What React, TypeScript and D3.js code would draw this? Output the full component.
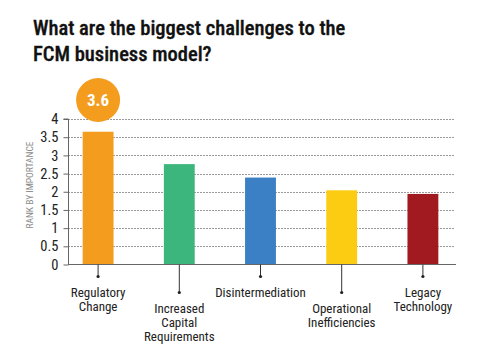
import React, { useRef, useEffect } from "react";
import { select, scaleBand, scaleLinear, axisLeft, range } from "d3";

const categories = [
  ["Regulatory", "Change"],
  ["Increased", "Capital", "Requirements"],
  ["Disintermediation"],
  ["Operational", "Inefficiencies"],
  ["Legacy", "Technology"],
];
const values = [3.65, 2.76, 2.39, 2.04, 1.94];
const colors = ["#F49C1E", "#3DB67E", "#3B7FC4", "#FCCC12", "#A01A20"];
const yTicks = [0, 0.5, 1, 1.5, 2, 2.5, 3, 3.5, 4];
const highlight = "3.6";

const FONT = "'Liberation Sans Narrow', 'Roboto Condensed', 'DejaVu Sans Condensed', sans-serif";

function App() {
  const svgRef = useRef<SVGSVGElement>(null);

  useEffect(() => {
    const svg = select(svgRef.current);
    svg.selectAll("*").remove();

    const x = scaleBand<number>()
      .domain(range(values.length))
      .range([57.5, 463.5])
      .paddingInner(0.62)
      .paddingOuter(0.31);
    const y = scaleLinear().domain([0, 4]).range([264.5, 119]);

    // title
    const title = svg
      .append("text")
      .attr("font-family", FONT)
      .attr("font-size", 20.5)
      .attr("font-weight", 500)
      .attr("fill", "#111")
      .attr("stroke", "#111")
      .attr("stroke-width", 0.35);
    ["What are the biggest challenges to the", "FCM business model?"].forEach((t, i) =>
      title.append("tspan").attr("x", 33).attr("y", 35 + i * 25.5).text(t)
    );

    // grid
    svg
      .append("g")
      .selectAll("line")
      .data(yTicks.filter((d) => d > 0))
      .join("line")
      .attr("x1", 68)
      .attr("x2", 455)
      .attr("y1", (d) => Math.round(y(d)) + 0.5)
      .attr("y2", (d) => Math.round(y(d)) + 0.5)
      .attr("stroke", "#9a9a9a")
      .attr("stroke-width", 1)
      .attr("stroke-dasharray", "2,1");

    // y axis
    const yAxis = axisLeft(y)
      .tickValues(yTicks)
      .tickSize(5)
      .tickPadding(5)
      .tickFormat((d) => String(d));
    const ga = svg.append("g").attr("transform", "translate(68.5,0)").call(yAxis);
    ga.select(".domain").attr("stroke", "#666").attr("d", `M-5,${y(4)}H0V${y(0)}`);
    ga.selectAll(".tick line").attr("stroke", "#666");
    ga.selectAll(".tick text")
      .attr("font-family", FONT)
      .attr("font-size", 14.5)
      .attr("fill", "#222");

    // axis title
    svg
      .append("text")
      .attr("transform", `translate(33,185) rotate(-90)`)
      .attr("text-anchor", "middle")
      .attr("font-family", FONT)
      .attr("font-size", 9.5)
      .attr("fill", "#8a8a8a")
      .text("RANK BY IMPORTANCE");

    // bars
    svg
      .append("g")
      .selectAll("rect")
      .data(values)
      .join("rect")
      .attr("x", (d, i) => x(i)!)
      .attr("y", (d) => y(d))
      .attr("width", x.bandwidth())
      .attr("height", (d) => y(0) - y(d))
      .attr("fill", (d, i) => colors[i]);

    // baseline
    svg
      .append("line")
      .attr("x1", 68)
      .attr("x2", 456)
      .attr("y1", y(0))
      .attr("y2", y(0))
      .attr("stroke", "#666")
      .attr("stroke-width", 1.2);

    // category connectors and labels
    const cat = svg
      .append("g")
      .selectAll("g")
      .data(categories)
      .join("g")
      .attr("transform", (d, i) => `translate(${x(i)! + x.bandwidth() / 2},0)`);
    const drop = (i: number) => (i % 2 === 0 ? 12 : 28);
    cat
      .append("line")
      .attr("y1", y(0))
      .attr("y2", (d, i) => y(0) + drop(i))
      .attr("stroke", "#333")
      .attr("stroke-width", 1);
    cat
      .append("circle")
      .attr("cy", (d, i) => y(0) + drop(i))
      .attr("r", 1.6)
      .attr("fill", "#222");
    cat
      .append("text")
      .attr("text-anchor", "middle")
      .attr("font-family", FONT)
      .attr("font-size", 13)
      .attr("fill", "#222")
      .each(function (d, i) {
        const t = select(this);
        d.forEach((line, j) =>
          t
            .append("tspan")
            .attr("x", 0)
            .attr("y", y(0) + drop(i) + 20 + j * 14.3)
            .text(line)
        );
      });

    // highlight bubble
    const cx = x(0)! + x.bandwidth() / 2;
    svg
      .append("circle")
      .attr("cx", cx)
      .attr("cy", 100)
      .attr("r", 22)
      .attr("fill", colors[0]);
    svg
      .append("text")
      .attr("x", cx)
      .attr("y", 106)
      .attr("text-anchor", "middle")
      .attr("font-family", FONT)
      .attr("font-weight", "bold")
      .attr("font-size", 17)
      .attr("fill", "#fff")
      .text(highlight);
  }, []);

  return (
    <svg
      ref={svgRef}
      width={480}
      height={364}
      style={{ position: "absolute", left: 0, top: 0, background: "#fff" }}
    />
  );
}

export default App;
